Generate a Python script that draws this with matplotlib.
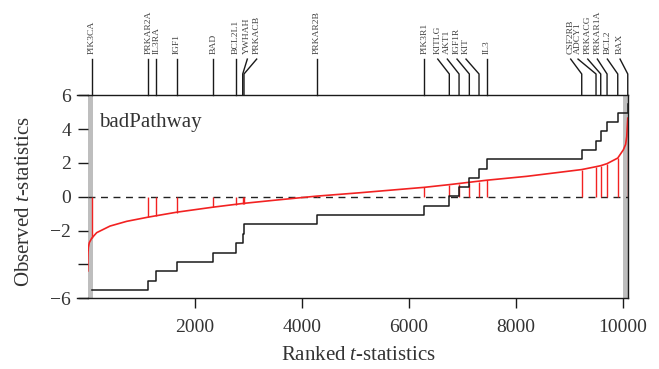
import matplotlib
matplotlib.use("Agg")
import matplotlib.pyplot as plt
import numpy as np

plt.rcParams['font.family'] = ['Liberation Serif', 'DejaVu Serif']
plt.rcParams['mathtext.fontset'] = 'custom'
plt.rcParams['mathtext.rm'] = 'Liberation Serif'
plt.rcParams['mathtext.it'] = 'Liberation Serif:italic'

# ranked t-statistics of all genes
curve_rank = [1, 3, 6, 12, 30, 75, 168, 417, 729, 1133, 1663, 2347, 2908, 3500,
              4279, 5088, 6290, 6757, 7455, 8203, 9230, 9497, 9585, 9703,
              9903, 10008, 10050, 10071, 10090]
curve_t = [-4.38, -3.80, -3.30, -3.00, -2.71, -2.45, -2.12, -1.73, -1.45, -1.20,
           -0.91, -0.61, -0.39, -0.20, 0.04, 0.24, 0.56, 0.72, 0.98, 1.21,
           1.61, 1.78, 1.84, 1.96, 2.29, 2.78, 3.10, 3.56, 4.65]

# genes of the pathway: rank, observed t, running step value
genes = ["PIK3CA", "PRKAR2A", "IL3RA", "IGF1", "BAD", "BCL2L1", "YWHAH", "PRKACB",
         "PRKAR2B", "PIK3R1", "KITLG", "AKT1", "IGF1R", "KIT", "IL3", "CSF2RB",
         "ADCY1", "PRKACG", "PRKAR1A", "BCL2", "BAX"]
gene_rank = [75, 1132, 1282, 1663, 2347, 2771, 2896, 2920, 4279, 6289, 6756, 6938,
             7130, 7311, 7455, 9230, 9497, 9585, 9703, 9903, 10090]
gene_t = [-2.45, -1.20, -1.15, -0.93, -0.62, -0.47, -0.42, -0.40, 0.04, 0.56, 0.72,
          0.77, 0.84, 0.90, 0.98, 1.61, 1.78, 1.84, 1.96, 2.29, 4.60]
step_val = [-5.49, -4.96, -4.39, -3.85, -3.30, -2.75, -2.20, -1.63, -1.08, -0.55,
            0.02, 0.56, 1.12, 1.66, 2.21, 2.76, 3.31, 3.86, 4.41, 4.98, 5.50]
# where the label text sits (spread out to avoid overlaps)
label_rank = [75, 1132, 1282, 1663, 2347, 2771, 2982, 3157, 4279, 6289, 6540, 6719,
              6900, 7068, 7455, 9024, 9161, 9342, 9522, 9709, 9946]

xmax = 10100

fig = plt.figure(figsize=(6.59, 3.69), dpi=100)
ax = fig.add_axes([0.13308, 0.19160, 0.82033, 0.55014])

# grey bands for the extreme 1%
ax.axvspan(0, 101, color='#bebebe', lw=0, zorder=0)
ax.axvspan(xmax - 101, xmax, color='#bebebe', lw=0, zorder=0)

ax.axhline(0, color='#222222', lw=1, ls=(0, (5, 4)), zorder=1)

ax.plot(curve_rank, curve_t, color='#f22222', lw=1.2, zorder=2)
ax.vlines(gene_rank, 0, gene_t, color='#f22222', lw=1, zorder=2)

ax.step(gene_rank + [xmax], step_val + [step_val[-1]], where='post',
        color='#1a1a1a', lw=1.1, zorder=3)

# gene labels above the plot
y_top, y_kink, y_end, y_txt = 6, 7.26, 8.14, 8.45
for g, r, lr in zip(genes, gene_rank, label_rank):
    if abs(r - lr) < 1:
        ax.plot([r, r], [y_top, y_end], color='#1a1a1a', lw=1, clip_on=False)
    else:
        ax.plot([r, r, lr], [y_top, y_kink, y_end], color='#1a1a1a', lw=1,
                clip_on=False)
    ax.text(lr, y_txt, g, rotation=90, ha='center', va='bottom', fontsize=6.8,
            color='#444444', clip_on=False)

ax.text(0.0215, 0.845, "badPathway", transform=ax.transAxes, fontsize=15,
        color='#333333', ha='left', va='baseline')

ax.set_xlim(0, xmax)
ax.set_ylim(-6, 6)

ax.spines['left'].set_visible(False)
for s in ['top', 'bottom', 'right']:
    ax.spines[s].set_color('#1a1a1a')
    ax.spines[s].set_linewidth(1)
# top and bottom lines run out to the y ticks
ax.plot([-0.0207, 0], [1, 1], transform=ax.transAxes, color='#1a1a1a', lw=1, clip_on=False)
ax.plot([-0.0207, 0], [0, 0], transform=ax.transAxes, color='#1a1a1a', lw=1, clip_on=False)

ax.set_xticks([2000, 4000, 6000, 8000, 10000])
ax.set_yticks([-6, -4, -2, 0, 2, 4, 6])
ax.set_yticklabels(["\u22126", "", "\u22122", "0", "2", "4", "6"])
ax.tick_params(axis='both', direction='out', length=7.5, width=1, color='#1a1a1a',
               labelsize=14, labelcolor='#333333')
ax.tick_params(axis='x', pad=7.5)
ax.tick_params(axis='y', pad=4.5)

fig.text(358 / 659, 1 - 355 / 369, "Ranked $t$-statistics", ha='center', va='center',
         fontsize=15, color='#333333')
fig.text(25 / 659, 1 - 201.5 / 369, "Observed $t$-statistics", ha='center', va='center',
         rotation=90, fontsize=15, color='#333333')

fig.savefig('out.png', dpi=100)
